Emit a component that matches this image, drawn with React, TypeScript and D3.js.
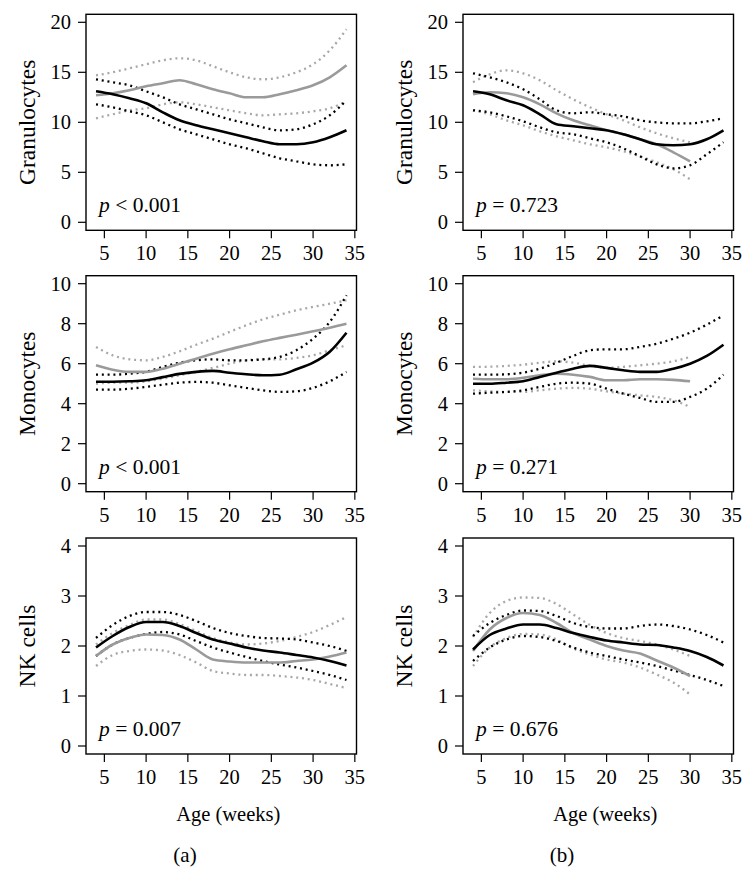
import React from "react";
import * as d3 from "d3";

const AGES = [4, 6, 8, 10, 12, 14, 16, 18, 20, 22, 24, 26, 28, 30, 32, 34];
const X_TICKS = [5, 10, 15, 20, 25, 30, 35];

// Granulocytes (a)
const granA_black = [13.1, 12.8, 12.4, 11.9, 11.0, 10.2, 9.7, 9.3, 8.9, 8.5, 8.1, 7.8, 7.8, 8.0, 8.5, 9.2];
const granA_blackHi = [14.3, 14.0, 13.7, 13.1, 12.5, 11.8, 11.3, 10.8, 10.3, 9.9, 9.5, 9.2, 9.3, 9.8, 10.7, 12.2];
const granA_blackLo = [11.8, 11.5, 11.1, 10.7, 10.0, 9.3, 8.8, 8.3, 7.8, 7.4, 6.9, 6.4, 6.1, 5.8, 5.7, 5.8];
const granA_grey = [12.7, 12.9, 13.2, 13.6, 13.9, 14.2, 13.8, 13.3, 12.9, 12.5, 12.5, 12.8, 13.2, 13.7, 14.5, 15.7];
const granA_greyHi = [14.7, 15.0, 15.4, 15.8, 16.2, 16.4, 16.2, 15.6, 15.0, 14.5, 14.3, 14.5, 15.0, 15.8, 17.2, 19.3];
const granA_greyLo = [10.4, 10.8, 11.2, 11.4, 11.8, 12.0, 11.8, 11.5, 11.2, 10.9, 10.7, 10.8, 10.9, 11.1, 11.4, 12.1];

// Granulocytes (b)
const granB_black = [13.1, 12.8, 12.2, 11.7, 10.8, 9.8, 9.6, 9.4, 9.2, 8.8, 8.3, 7.8, 7.7, 7.8, 8.3, 9.2];
const granB_blackHi = [14.9, 14.5, 14.0, 13.3, 12.3, 11.2, 10.9, 11.0, 10.8, 10.6, 10.2, 10.0, 9.9, 9.9, 10.1, 10.4];
const granB_blackLo = [11.2, 11.0, 10.6, 10.1, 9.5, 9.0, 8.8, 8.4, 8.0, 7.4, 6.6, 5.8, 5.4, 5.7, 6.8, 8.0];
const granB_grey = [12.8, 13.0, 12.9, 12.5, 11.8, 10.9, 10.2, 9.7, 9.2, 8.8, 8.3, 7.8, 7.0, 6.1];
const granB_greyHi = [14.0, 14.8, 15.2, 14.9, 14.2, 13.2, 12.3, 11.5, 10.8, 10.2, 9.5, 8.9, 8.4, 8.0];
const granB_greyLo = [11.2, 10.8, 10.2, 9.7, 9.1, 8.6, 8.2, 7.8, 7.5, 7.1, 6.6, 6.0, 5.3, 4.3];

// Monocytes (a)
const monoA_black = [5.1, 5.1, 5.12, 5.17, 5.33, 5.49, 5.59, 5.64, 5.55, 5.47, 5.42, 5.45, 5.72, 6.05, 6.6, 7.55];
const monoA_blackHi = [5.45, 5.45, 5.5, 5.59, 5.84, 6.05, 6.17, 6.22, 6.17, 6.17, 6.22, 6.34, 6.67, 7.25, 8.09, 9.42];
const monoA_blackLo = [4.7, 4.7, 4.75, 4.84, 4.95, 5.05, 5.09, 5.05, 4.92, 4.79, 4.67, 4.59, 4.62, 4.79, 5.12, 5.59];
const monoA_grey = [5.92, 5.7, 5.59, 5.59, 5.75, 6.0, 6.25, 6.5, 6.72, 6.92, 7.12, 7.29, 7.45, 7.62, 7.8, 8.0];
const monoA_greyHi = [6.84, 6.42, 6.22, 6.17, 6.34, 6.62, 6.95, 7.25, 7.59, 7.92, 8.22, 8.45, 8.67, 8.84, 9.0, 9.17];
const monoA_greyLo = [5.0, 5.05, 5.05, 5.12, 5.25, 5.42, 5.59, 5.79, 6.0, 6.17, 6.22, 6.22, 6.29, 6.42, 6.67, 6.92];

// Monocytes (b)
const monoB_black = [5.0, 5.0, 5.05, 5.12, 5.34, 5.55, 5.75, 5.89, 5.79, 5.67, 5.59, 5.59, 5.75, 6.0, 6.39, 6.95];
const monoB_blackHi = [5.45, 5.45, 5.47, 5.55, 5.75, 6.05, 6.39, 6.67, 6.72, 6.72, 6.84, 7.0, 7.25, 7.55, 7.95, 8.42];
const monoB_blackLo = [4.5, 4.55, 4.59, 4.67, 4.84, 5.0, 5.05, 5.0, 4.75, 4.5, 4.29, 4.09, 4.09, 4.34, 4.75, 5.45];
const monoB_grey = [5.25, 5.22, 5.22, 5.29, 5.42, 5.5, 5.45, 5.34, 5.17, 5.17, 5.22, 5.22, 5.19, 5.12];
const monoB_greyHi = [5.84, 5.85, 5.89, 5.95, 6.05, 6.12, 6.05, 5.89, 5.79, 5.84, 5.92, 6.0, 6.12, 6.34];
const monoB_greyLo = [4.67, 4.62, 4.59, 4.59, 4.67, 4.75, 4.79, 4.75, 4.62, 4.5, 4.42, 4.34, 4.17, 3.84];

// NK cells (a)
const nkA_black = [1.97, 2.2, 2.38, 2.48, 2.48, 2.4, 2.26, 2.13, 2.05, 1.97, 1.91, 1.87, 1.82, 1.77, 1.7, 1.61];
const nkA_blackHi = [2.16, 2.42, 2.6, 2.68, 2.68, 2.62, 2.5, 2.36, 2.26, 2.2, 2.16, 2.15, 2.13, 2.07, 2.0, 1.9];
const nkA_blackLo = [1.8, 2.03, 2.16, 2.24, 2.28, 2.23, 2.1, 1.97, 1.87, 1.78, 1.7, 1.63, 1.57, 1.5, 1.42, 1.32];
const nkA_grey = [1.8, 2.03, 2.16, 2.23, 2.22, 2.13, 1.93, 1.73, 1.69, 1.67, 1.67, 1.67, 1.7, 1.73, 1.79, 1.87];
const nkA_greyHi = [2.03, 2.26, 2.42, 2.53, 2.53, 2.44, 2.3, 2.16, 2.07, 2.03, 2.05, 2.1, 2.18, 2.28, 2.42, 2.58];
const nkA_greyLo = [1.6, 1.82, 1.9, 1.93, 1.91, 1.82, 1.67, 1.5, 1.45, 1.42, 1.42, 1.4, 1.37, 1.32, 1.24, 1.16];

// NK cells (b)
const nkB_black = [1.93, 2.22, 2.35, 2.43, 2.43, 2.36, 2.26, 2.18, 2.11, 2.07, 2.03, 2.02, 1.97, 1.9, 1.78, 1.61];
const nkB_blackHi = [2.2, 2.46, 2.62, 2.71, 2.7, 2.6, 2.46, 2.38, 2.35, 2.35, 2.4, 2.43, 2.4, 2.33, 2.22, 2.07];
const nkB_blackLo = [1.7, 1.97, 2.13, 2.2, 2.18, 2.1, 1.97, 1.87, 1.8, 1.73, 1.67, 1.6, 1.51, 1.42, 1.32, 1.2];
const nkB_grey = [1.9, 2.33, 2.56, 2.66, 2.62, 2.46, 2.26, 2.13, 2.0, 1.91, 1.85, 1.71, 1.57, 1.4];
const nkB_greyHi = [2.18, 2.66, 2.9, 2.97, 2.96, 2.84, 2.63, 2.42, 2.26, 2.16, 2.1, 2.03, 1.93, 1.8];
const nkB_greyLo = [1.6, 1.97, 2.16, 2.24, 2.23, 2.13, 1.95, 1.83, 1.73, 1.67, 1.57, 1.43, 1.27, 1.03];

const ROW_LABELS = ["Granulocytes", "Monocytes", "NK cells"];
const Y_TICKS = [
  [0, 5, 10, 15, 20],
  [0, 2, 4, 6, 8, 10],
  [0, 1, 2, 3, 4],
];
const Y_MAX = [20, 10, 4];
const P_LABELS = [
  ["< 0.001", "= 0.723"],
  ["< 0.001", "= 0.271"],
  ["= 0.007", "= 0.676"],
];
const PANEL_LETTERS = ["(a)", "(b)"];
const X_TITLE = "Age (weeks)";

type Series = { black: number[]; blackHi: number[]; blackLo: number[]; grey: number[]; greyHi: number[]; greyLo: number[] };
const DATA: Series[][] = [
  [
    { black: granA_black, blackHi: granA_blackHi, blackLo: granA_blackLo, grey: granA_grey, greyHi: granA_greyHi, greyLo: granA_greyLo },
    { black: granB_black, blackHi: granB_blackHi, blackLo: granB_blackLo, grey: granB_grey, greyHi: granB_greyHi, greyLo: granB_greyLo },
  ],
  [
    { black: monoA_black, blackHi: monoA_blackHi, blackLo: monoA_blackLo, grey: monoA_grey, greyHi: monoA_greyHi, greyLo: monoA_greyLo },
    { black: monoB_black, blackHi: monoB_blackHi, blackLo: monoB_blackLo, grey: monoB_grey, greyHi: monoB_greyHi, greyLo: monoB_greyLo },
  ],
  [
    { black: nkA_black, blackHi: nkA_blackHi, blackLo: nkA_blackLo, grey: nkA_grey, greyHi: nkA_greyHi, greyLo: nkA_greyLo },
    { black: nkB_black, blackHi: nkB_blackHi, blackLo: nkB_blackLo, grey: nkB_grey, greyHi: nkB_greyHi, greyLo: nkB_greyLo },
  ],
];

const W = 754;
const H = 877;
const COL_X = [86, 463];
const ROW_Y = [14.3, 275.7, 538];
const PW = 270.5;
const PH = 216;
const FONT = "'Liberation Serif', 'Times New Roman', serif";

function Panel({ row, col }: { row: number; col: number }) {
  const x0 = COL_X[col];
  const y0 = ROW_Y[row];
  const s = DATA[row][col];
  const ymax = Y_MAX[row];
  const pad = ymax * 0.04;
  const x = d3.scaleLinear().domain([4 - 1.2, 34 + 1.2]).range([x0, x0 + PW]);
  const y = d3.scaleLinear().domain([-pad, ymax + pad]).range([y0 + PH, y0]);
  const line = (vals: number[]) =>
    d3
      .line<number>()
      .x((_, i) => x(AGES[i]))
      .y((v) => y(v))
      .curve(d3.curveMonotoneX)(vals) || "";
  const dot = { strokeDasharray: "2,3.8", strokeWidth: 2.3, fill: "none" } as const;
  const bottom = y0 + PH;
  return (
    <g>
      <path d={line(s.greyHi)} stroke="#a8a8a8" {...dot} />
      <path d={line(s.greyLo)} stroke="#a8a8a8" {...dot} />
      <path d={line(s.blackHi)} stroke="#000" {...dot} />
      <path d={line(s.blackLo)} stroke="#000" {...dot} />
      <path d={line(s.grey)} stroke="#9a9a9a" strokeWidth={2.6} fill="none" />
      <path d={line(s.black)} stroke="#000" strokeWidth={2.6} fill="none" />
      <rect x={x0} y={y0} width={PW} height={PH} fill="none" stroke="#000" strokeWidth={1.4} />
      {Y_TICKS[row].map((t) => (
        <g key={"y" + t}>
          <line x1={x0 - 8} x2={x0} y1={y(t)} y2={y(t)} stroke="#000" strokeWidth={1.2} />
          <text x={x0 - 15} y={y(t)} dy="0.34em" textAnchor="end" fontSize={20.5} fontFamily={FONT}>
            {t}
          </text>
        </g>
      ))}
      {X_TICKS.map((t) => (
        <g key={"x" + t}>
          <line x1={x(t)} x2={x(t)} y1={bottom} y2={bottom + 8} stroke="#000" strokeWidth={1.2} />
          <text x={x(t)} y={bottom + 30} textAnchor="middle" fontSize={20.5} fontFamily={FONT}>
            {t}
          </text>
        </g>
      ))}
      <text
        transform={`translate(${x0 - 59},${y0 + PH / 2}) rotate(-90)`}
        textAnchor="middle"
        dy="0.35em"
        fontSize={23.5}
        fontFamily={FONT}
      >
        {ROW_LABELS[row]}
      </text>
      <text x={x0 + 13} y={bottom - 18} fontSize={21.5} fontFamily={FONT}>
        <tspan fontStyle="italic">p</tspan> {P_LABELS[row][col]}
      </text>
      {row === 2 && (
        <>
          <text x={x0 + PW / 2 + 7} y={bottom + 67} textAnchor="middle" fontSize={20.5} fontFamily={FONT}>
            {X_TITLE}
          </text>
          <text x={x0 + 99} y={bottom + 108} textAnchor="middle" fontSize={21} fontFamily={FONT}>
            {PANEL_LETTERS[col]}
          </text>
        </>
      )}
    </g>
  );
}

export default function App() {
  return (
    <svg
      width={W}
      height={H}
      viewBox={`0 0 ${W} ${H}`}
      style={{ position: "absolute", left: 0, top: 0, background: "#fff" }}
    >
      <rect x={0} y={0} width={W} height={H} fill="#fff" />
      {[0, 1, 2].map((r) =>
        [0, 1].map((c) => <Panel key={`${r}-${c}`} row={r} col={c} />)
      )}
    </svg>
  );
}
